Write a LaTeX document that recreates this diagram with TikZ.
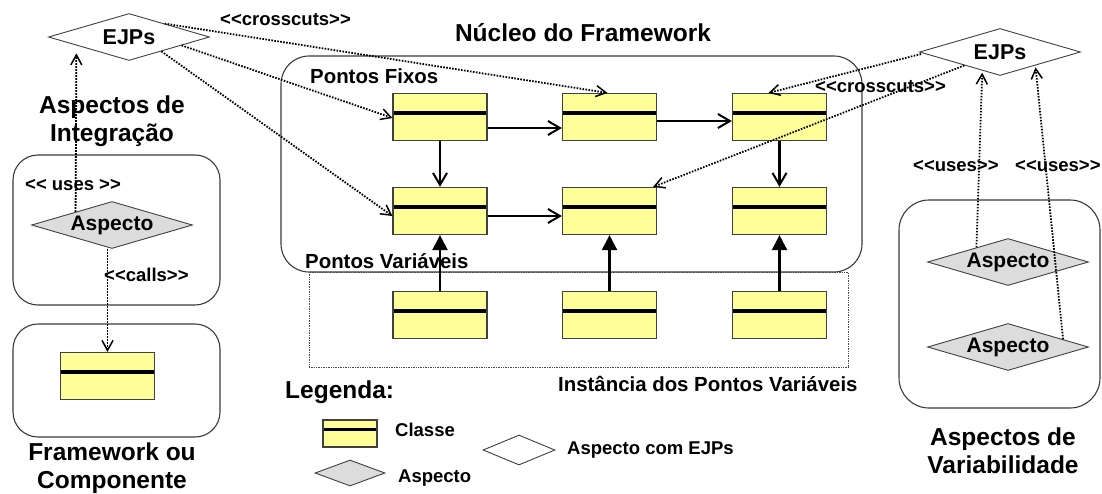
\documentclass[tikz,border=0pt]{standalone}
\usepackage{fontspec}
\setmainfont{Liberation Sans}[Ligatures=TeXOff]
\usetikzlibrary{shapes.geometric,arrows.meta,calc}
\definecolor{clsY}{HTML}{FFFF99}
\definecolor{aspG}{HTML}{DCDCDC}
\definecolor{frameC}{HTML}{3A3A3A}
\begin{document}
\begin{tikzpicture}[x=1pt,y=-1pt,
 cls/.style={draw=black!75, line width=1.2pt, fill=clsY, minimum width=94pt, minimum height=47pt, inner sep=0pt,
   path picture={\draw[draw=black, line width=4pt] ($(path picture bounding box.north west)!0.41!(path picture bounding box.south west)$) -- ($(path picture bounding box.north east)!0.41!(path picture bounding box.south east)$);}},
 smallcls/.style={draw=black!75, line width=1.2pt, fill=clsY, minimum width=54pt, minimum height=27pt, inner sep=0pt,
   path picture={\draw[draw=black, line width=3pt] ($(path picture bounding box.north west)!0.36!(path picture bounding box.south west)$) -- ($(path picture bounding box.north east)!0.36!(path picture bounding box.south east)$);}},
 dia/.style={diamond, draw=black!75, line width=0.9pt, inner sep=0pt, aspect=3.4, minimum width=161pt, minimum height=47pt},
 ejp/.style={dia, fill=white, font=\bfseries\fontsize{21.5}{24}\selectfont},
 asp/.style={dia, fill=aspG, font=\bfseries\fontsize{21}{23}\selectfont},
 grp/.style={draw=frameC, line width=1.1pt, rounded corners=28pt, inner sep=0pt},
 head/.style={font=\bfseries\fontsize{24.5}{28}\selectfont, align=center, inner sep=0pt},
 lbl/.style={font=\bfseries\fontsize{18.5}{20}\selectfont, inner sep=0pt},
 sub/.style={font=\bfseries\fontsize{20.4}{22}\selectfont, inner sep=0pt},
 assoc/.style={line width=2.3pt, -{Straight Barb[length=12pt,width=14pt,line width=2pt]}},
 inh/.style={line width=2.4pt, -{Triangle[length=15pt,width=15pt]}},
 dep/.style={draw=black, dash pattern=on 1.6pt off 1.4pt, line width=1.8pt, -{Straight Barb[length=10pt,width=11pt,line width=1.5pt]}},
]
\useasboundingbox (0,0) rectangle (1102,493);

% containers
\node[grp, minimum width=581pt, minimum height=216pt] (core) at (571.5,164) {};
\node[draw=black!70, densely dotted, line width=0.7pt, minimum width=539pt, minimum height=95pt, inner sep=0pt] (inst) at (578.5,319.5) {};
\node[grp, rounded corners=25pt, minimum width=207pt, minimum height=150pt] (boxI) at (116.5,230) {};
\node[grp, rounded corners=25pt, minimum width=207pt, minimum height=113pt] (boxF) at (116.5,380.5) {};
\node[grp, rounded corners=30pt, minimum width=201pt, minimum height=208pt] (boxV) at (999.5,304) {};

% titles
\node[head] (tCore) at (583,33) {Núcleo do Framework};
\node[sub, anchor=west] (tFix) at (310,76) {Pontos Fixos};
\node[sub, anchor=west] (tVar) at (305,261) {Pontos Variáveis};
\node[sub, anchor=west] (tInst) at (558,384) {Instância dos Pontos Variáveis};
\node[head, anchor=west] (tLeg) at (285,392) {Legenda:};
\node[head] (tInt) at (112,121) {Aspectos de\\Integração};
\node[head] (tFw) at (112,468) {Framework ou\\Componente};
\node[head] (tVarA) at (1003,451) {Aspectos de\\Variabilidade};

% classes
\node[cls] (b11) at (440,117) {};
\node[cls] (b12) at (609.5,117) {};
\node[cls] (b13) at (779.5,117) {};
\node[cls] (b21) at (440,211) {};
\node[cls] (b22) at (609.5,211) {};
\node[cls] (b23) at (779.5,211) {};
\node[cls] (i1) at (440,315) {};
\node[cls] (i2) at (609.5,315) {};
\node[cls] (i3) at (779.5,315) {};
\node[cls] (clsF) at (107.5,376) {};

% diamonds
\node[ejp] (ejpL) at (129,37) {EJPs};
\node[ejp] (ejpR) at (1000,52) {EJPs};
\node[asp] (aspL) at (112,225) {Aspecto};
\node[asp] (aspR1) at (1008,262) {Aspecto};
\node[asp] (aspR2) at (1008,347) {Aspecto};

% core connectors
\draw[assoc] ([yshift=-11pt]b11.east) -- ([yshift=-11pt]b12.west);
\draw[assoc] ([yshift=-4pt]b12.east) -- ([yshift=-4pt]b13.west);
\draw[assoc] ([yshift=-5pt]b21.east) -- ([yshift=-5pt]b22.west);
\draw[assoc] (b11.south) -- (b21.north);
\draw[assoc] (b13.south) -- (b23.north);
\draw[inh] (i1.north) -- (b21.south);
\draw[inh] (i2.north) -- (b22.south);
\draw[inh] (i3.north) -- (b23.south);

% crosscuts
\draw[dep] ($(ejpL.north)!0.44!(ejpL.east)$) -- ([xshift=-2pt]b12.north);
\draw[dep] ($(ejpL.east)!0.35!(ejpL.south)$) -- ([yshift=-1pt]b11.west);
\draw[dep] ($(ejpL.east)!0.6!(ejpL.south)$) -- ([yshift=-5pt]b21.west);
\draw[dep] ([xshift=2pt,yshift=-2pt]ejpR.west) -- ([xshift=-11pt]b13.north);
\draw[dep] ($(ejpR.west)!0.56!(ejpR.south)$) -- ([xshift=-4pt]b22.north east);

% uses / calls
\draw[dep] ($(aspL.west)!0.55!(aspL.north)$) -- ([yshift=-8pt]$(ejpL.west)!0.35!(ejpL.south)$);
\draw[dep] ([xshift=-4.5pt]aspL.south) -- (clsF.north);
\draw[dep] ($(aspR1.west)!0.61!(aspR1.north)$) -- ([yshift=-2pt]$(ejpR.west)!0.78!(ejpR.south)$);
\draw[dep] ($(aspR2.north)!0.68!(aspR2.east)$) -- ([yshift=-2pt]$(ejpR.south)!0.44!(ejpR.east)$);

% labels
\node[lbl, anchor=west] (lCross1) at (220,20) {<<crosscuts>>};
\node[lbl, anchor=west] (lCross2) at (815,87) {<<crosscuts>>};
\node[lbl, anchor=west] (lUsesI) at (25,185) {<< uses >>};
\node[lbl, anchor=west] (lCalls) at (104,275) {<<calls>>};
\node[lbl, anchor=west] (lUses1) at (913,166) {<<uses>>};
\node[lbl, anchor=west] (lUses2) at (1015,166) {<<uses>>};

% legend
\node[smallcls] (legC) at (350,433.5) {};
\node[lbl, anchor=west] (legCt) at (395,430) {Classe};
\node[dia, fill=aspG, minimum width=70pt, minimum height=26pt] (legA) at (350,473) {};
\node[lbl, anchor=west] (legAt) at (398,478) {Aspecto};
\node[dia, fill=white, minimum width=72pt, minimum height=30pt] (legE) at (519,450) {};
\node[lbl, anchor=west] (legEt) at (567,450) {Aspecto com EJPs};
\end{tikzpicture}
\end{document}
